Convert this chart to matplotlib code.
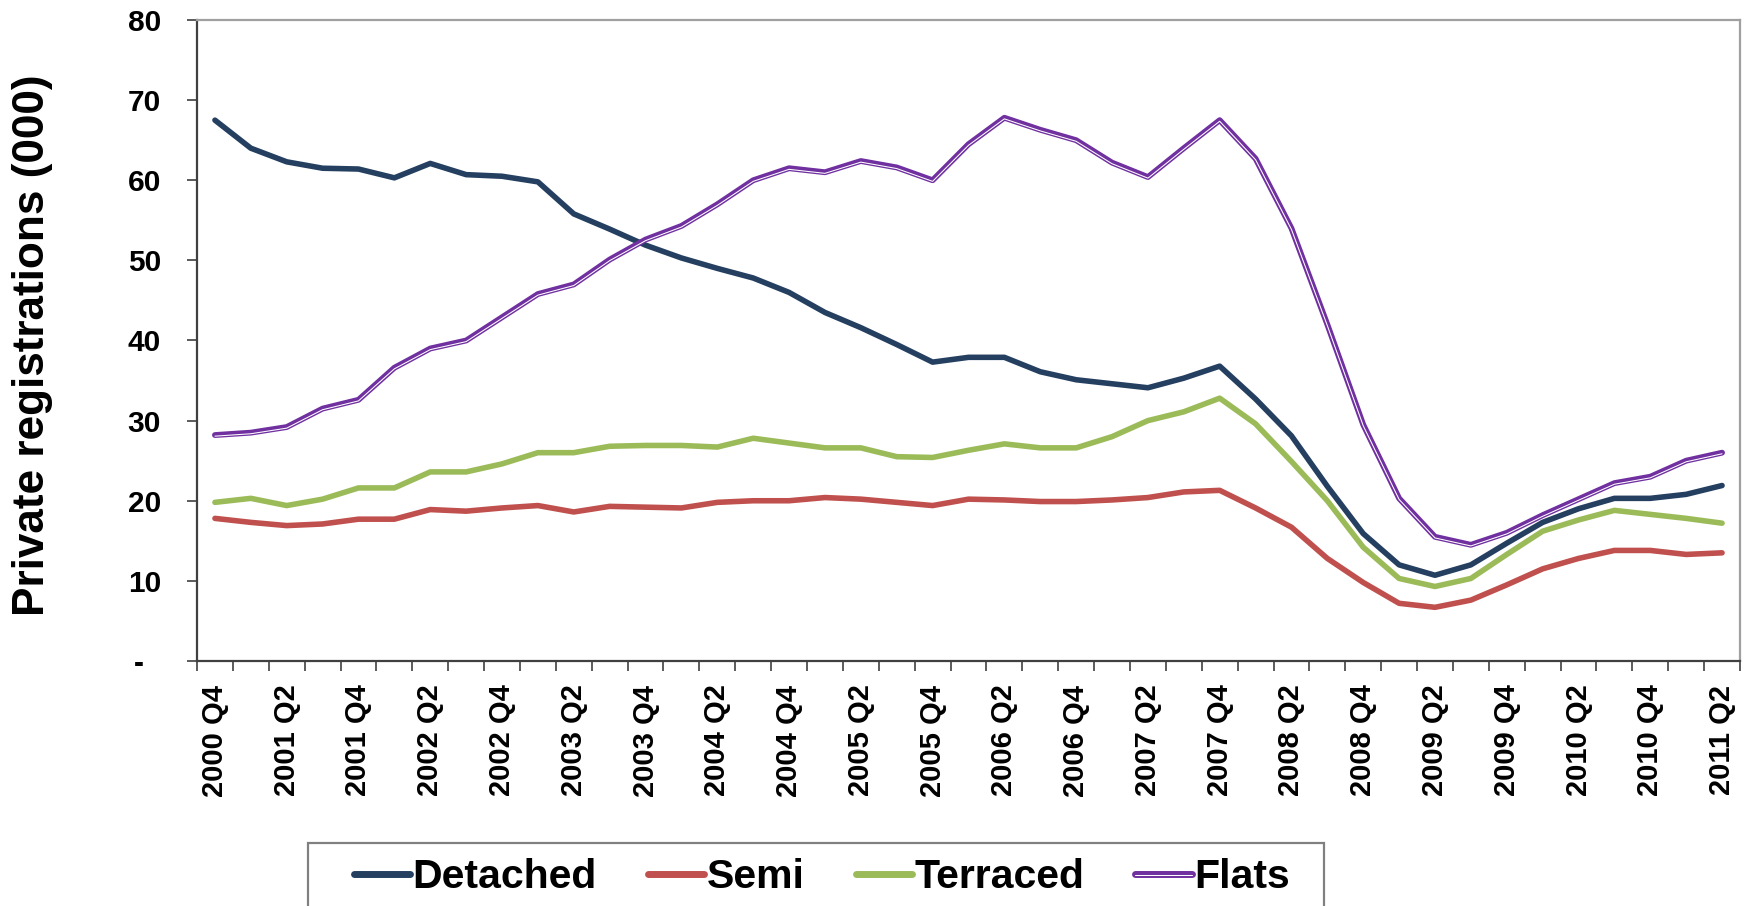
import matplotlib
matplotlib.use("Agg")
import matplotlib.pyplot as plt
import matplotlib.patheffects as pe
from matplotlib.patches import Rectangle
from matplotlib.ticker import FixedLocator, FuncFormatter

plt.rcParams['font.family'] = ['Liberation Sans', 'DejaVu Sans']
plt.rcParams['font.weight'] = 'bold'

# Quarterly periods, 2000 Q4 to 2011 Q2
quarters = []
for year in range(2000, 2012):
    for q in range(1, 5):
        if (year == 2000 and q < 4) or (year == 2011 and q > 2):
            continue
        quarters.append(f"{year} Q{q}")

# Private registrations (thousands) by dwelling type
detached = [67.5, 64.0, 62.3, 61.5, 61.4, 60.3, 62.1, 60.7, 60.5, 59.8,
            55.8, 53.9, 51.9, 50.3, 49.0, 47.8, 46.0, 43.5, 41.6, 39.5,
            37.3, 37.9, 37.9, 36.1, 35.1, 34.6, 34.1, 35.3, 36.8, 32.7,
            28.1, 21.8, 15.9, 12.0, 10.7, 12.0, 14.7, 17.3, 19.0, 20.3,
            20.3, 20.8, 21.9]
semi = [17.8, 17.3, 16.9, 17.1, 17.7, 17.7, 18.9, 18.7, 19.1, 19.4,
        18.6, 19.3, 19.2, 19.1, 19.8, 20.0, 20.0, 20.4, 20.2, 19.8,
        19.4, 20.2, 20.1, 19.9, 19.9, 20.1, 20.4, 21.1, 21.3, 19.1,
        16.7, 12.8, 9.8, 7.2, 6.7, 7.6, 9.5, 11.5, 12.8, 13.8,
        13.8, 13.3, 13.5]
terraced = [19.8, 20.3, 19.4, 20.2, 21.6, 21.6, 23.6, 23.6, 24.6, 26.0,
            26.0, 26.8, 26.9, 26.9, 26.7, 27.8, 27.2, 26.6, 26.6, 25.5,
            25.4, 26.3, 27.1, 26.6, 26.6, 28.0, 30.0, 31.1, 32.8, 29.6,
            24.9, 20.0, 14.2, 10.3, 9.3, 10.3, 13.3, 16.2, 17.6, 18.8,
            18.3, 17.8, 17.2]
flats = [28.2, 28.5, 29.2, 31.5, 32.6, 36.6, 39.0, 40.0, 42.9, 45.8,
         47.0, 50.1, 52.6, 54.3, 57.0, 60.0, 61.5, 61.0, 62.4, 61.6,
         60.0, 64.5, 67.8, 66.3, 65.0, 62.2, 60.4, 64.0, 67.5, 62.7,
         54.0, 42.0, 29.5, 20.3, 15.5, 14.5, 16.0, 18.2, 20.2, 22.2,
         23.0, 25.0, 26.0]

series_names = ["Detached", "Semi", "Terraced", "Flats"]
colors = ["#243F60", "#C0504D", "#9BBB59", "#7030A0"]

W, H = 1750, 906
fig = plt.figure(figsize=(W / 100, H / 100), dpi=100)
ax = fig.add_axes([197 / W, 1 - 661 / H, (1740 - 197) / W, (661 - 20) / H])

x = list(range(len(quarters)))
lw = 4.0
ax.plot(x, detached, color=colors[0], lw=lw, label=series_names[0], solid_capstyle='round')
ax.plot(x, semi, color=colors[1], lw=lw, label=series_names[1], solid_capstyle='round')
ax.plot(x, terraced, color=colors[2], lw=lw, label=series_names[2], solid_capstyle='round')
# Flats drawn as a purple double line with a thin white core set slightly low
ax.plot(x, flats, color=colors[3], lw=lw + 0.2, label=series_names[3], solid_capstyle='round',
        path_effects=[pe.Normal(),
                      pe.Stroke(offset=(0, -0.8), linewidth=0.75, foreground='white')])

ax.set_xlim(-0.5, len(quarters) - 0.5)
ax.set_ylim(0, 80)

# y axis
ax.set_yticks(range(0, 81, 10))
ax.yaxis.set_major_formatter(FuncFormatter(lambda v, p: "-  " if v == 0 else f"{int(v)}"))
ax.tick_params(axis='y', direction='out', length=7, width=1.2, color='#404040',
               labelsize=21.5, pad=19)

# x axis: tick marks between categories, labels on every other quarter
ax.xaxis.set_minor_locator(FixedLocator([i - 0.5 for i in range(len(quarters) + 1)]))
ax.set_xticks(x[::2])
ax.set_xticklabels(quarters[::2], rotation=90, fontsize=21, fontweight='bold')
ax.tick_params(axis='x', which='major', length=0, pad=17)
ax.tick_params(axis='x', which='minor', direction='out', length=7, width=1.2, color='#404040')

for side in ['left', 'bottom']:
    ax.spines[side].set_color('#404040')
    ax.spines[side].set_linewidth(1.6)
for side in ['top', 'right']:
    ax.spines[side].set_color('#A0A0A0')
    ax.spines[side].set_linewidth(1.6)

for lab in ax.get_yticklabels():
    lab.set_fontweight('bold')

fig.text(33 / W, 1 - 345 / H, "Private registrations (000)", rotation=90,
         ha='center', va='center', fontsize=31.8, fontweight='bold')

# Legend box, running off the bottom edge of the figure
fig.add_artist(Rectangle((308 / W, -0.05), (1324 - 308) / W, (906 - 843) / H + 0.05,
                         transform=fig.transFigure, facecolor='white',
                         edgecolor='#808080', linewidth=1.6, zorder=1))

leg = fig.legend(loc='center left', bbox_to_anchor=(354 / W, 1 - 877 / H),
                 ncol=4, fontsize=29.5, frameon=False,
                 handlelength=1.37, handletextpad=0.06, columnspacing=1.25,
                 borderpad=0, borderaxespad=0)
leg.set_zorder(2)
for line in leg.get_lines():
    line.set_linewidth(5.0)
for t in leg.get_texts():
    t.set_fontweight('bold')

fig.savefig("out.png", dpi=100, facecolor='white')
